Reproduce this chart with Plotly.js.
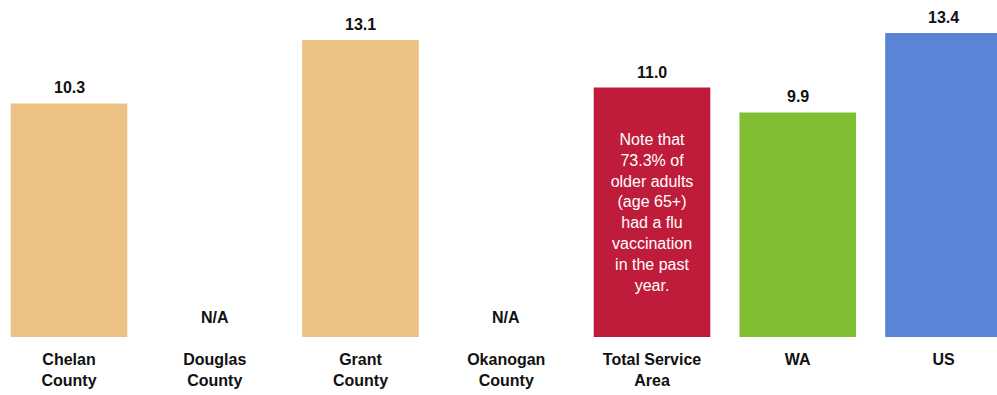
<!DOCTYPE html>
<html>
<head>
<meta charset="utf-8">
<script src="https://cdn.plot.ly/plotly-3.0.1.min.js"></script>
<style>html,body{margin:0;padding:0;background:#fff;}#chart{width:997px;height:395px;}</style>
</head>
<body>
<div id="chart"></div>
<script>
const categories = ["Chelan County", "Douglas County", "Grant County", "Okanogan County", "Total Service Area", "WA", "US"];
const tickLabels = ["Chelan<br>County", "Douglas<br>County", "Grant<br>County", "Okanogan<br>County", "Total Service<br>Area", "WA", "US"];
const values = [10.3, null, 13.1, null, 11.0, 9.9, 13.4];
const barColors = ["#ECC184", "#ECC184", "#ECC184", "#ECC184", "#BE1C3A", "#80BE32", "#5B83D6"];
const noteText = ["", "", "", "", "Note that<br>73.3% of<br>older adults<br>(age 65+)<br>had a flu<br>vaccination<br>in the past<br>year.", "", ""];

const font = "Liberation Sans, Arial, sans-serif";

const trace = {
  type: "bar",
  x: categories,
  y: values,
  width: 0.8,
  marker: {color: barColors, line: {width: 0}},
  text: noteText,
  textposition: "inside",
  insidetextanchor: "middle",
  textangle: 0,
  constraintext: "none",
  textfont: {family: font, size: 16, color: "#ffffff"},
  hoverinfo: "none"
};

const annotations = categories.map((c, i) => {
  const v = values[i];
  const isNA = v === null;
  return {
    x: c,
    y: isNA ? 0 : v,
    xref: "x",
    yref: "y",
    text: isNA ? "N/A" : v.toFixed(1),
    showarrow: false,
    yanchor: "bottom",
    yshift: isNA ? 9 : 5,
    font: {family: font, size: 16, color: "#111111", weight: "bold"}
  };
});

const layout = {
  width: 997,
  height: 395,
  margin: {l: 0, r: 0, t: 0, b: 58},
  paper_bgcolor: "#ffffff",
  plot_bgcolor: "#ffffff",
  showlegend: false,
  xaxis: {
    type: "category",
    range: [-0.4734, 6.367],
    tickmode: "array",
    tickvals: categories,
    ticktext: tickLabels,
    ticks: "",
    ticklabelstandoff: 11,
    showgrid: false,
    zeroline: false,
    showline: false,
    tickfont: {family: font, size: 16, color: "#111111", weight: "bold"}
  },
  yaxis: {
    range: [0, 14.86],
    showgrid: false,
    zeroline: false,
    showline: false,
    showticklabels: false,
    ticks: ""
  },
  annotations: annotations
};

Plotly.newPlot("chart", [trace], layout, {displayModeBar: false, staticPlot: true});
</script>
</body>
</html>
